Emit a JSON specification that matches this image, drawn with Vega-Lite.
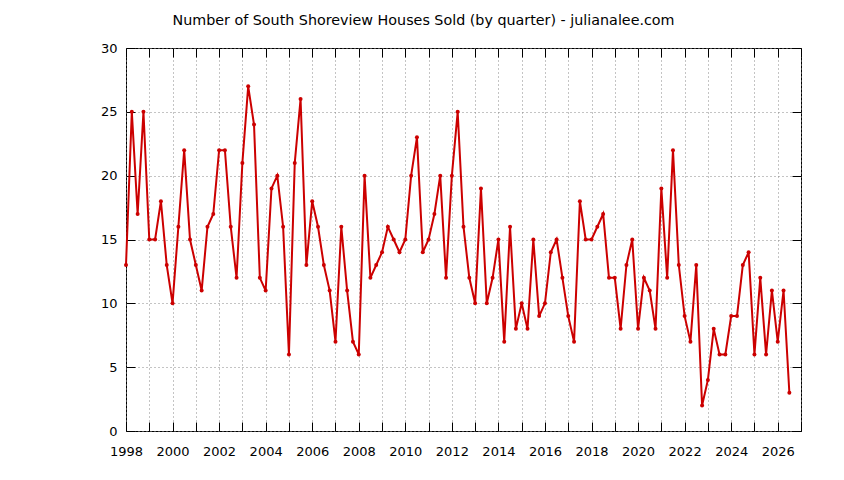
{
  "$schema": "https://vega.github.io/schema/vega-lite/v6.json",
  "width": 675,
  "height": 383,
  "autosize": {"type": "none"},
  "padding": {"left": 126, "top": 48, "right": 43, "bottom": 49},
  "background": "white",
  "title": {
    "text": "Number of South Shoreview Houses Sold (by quarter) - julianalee.com",
    "font": "DejaVu Sans",
    "fontSize": 14.3,
    "fontWeight": "normal",
    "color": "black",
    "anchor": "middle",
    "frame": "group",
    "dx": -40,
    "offset": 14
  },
  "config": {
    "view": {"stroke": "black", "strokeWidth": 1},
    "axis": {
      "labelFont": "DejaVu Sans",
      "labelFontSize": 13,
      "labelColor": "black",
      "domain": false,
      "tickColor": "black",
      "tickWidth": 1,
      "gridColor": "#888888",
      "gridDash": [1, 3],
      "gridWidth": 1,
      "title": null
    }
  },
  "datasets": {
    "sales": [
      {"t": 1998.0, "n": 13}, {"t": 1998.25, "n": 25}, {"t": 1998.5, "n": 17}, {"t": 1998.75, "n": 25},
      {"t": 1999.0, "n": 15}, {"t": 1999.25, "n": 15}, {"t": 1999.5, "n": 18}, {"t": 1999.75, "n": 13},
      {"t": 2000.0, "n": 10}, {"t": 2000.25, "n": 16}, {"t": 2000.5, "n": 22}, {"t": 2000.75, "n": 15},
      {"t": 2001.0, "n": 13}, {"t": 2001.25, "n": 11}, {"t": 2001.5, "n": 16}, {"t": 2001.75, "n": 17},
      {"t": 2002.0, "n": 22}, {"t": 2002.25, "n": 22}, {"t": 2002.5, "n": 16}, {"t": 2002.75, "n": 12},
      {"t": 2003.0, "n": 21}, {"t": 2003.25, "n": 27}, {"t": 2003.5, "n": 24}, {"t": 2003.75, "n": 12},
      {"t": 2004.0, "n": 11}, {"t": 2004.25, "n": 19}, {"t": 2004.5, "n": 20}, {"t": 2004.75, "n": 16},
      {"t": 2005.0, "n": 6}, {"t": 2005.25, "n": 21}, {"t": 2005.5, "n": 26}, {"t": 2005.75, "n": 13},
      {"t": 2006.0, "n": 18}, {"t": 2006.25, "n": 16}, {"t": 2006.5, "n": 13}, {"t": 2006.75, "n": 11},
      {"t": 2007.0, "n": 7}, {"t": 2007.25, "n": 16}, {"t": 2007.5, "n": 11}, {"t": 2007.75, "n": 7},
      {"t": 2008.0, "n": 6}, {"t": 2008.25, "n": 20}, {"t": 2008.5, "n": 12}, {"t": 2008.75, "n": 13},
      {"t": 2009.0, "n": 14}, {"t": 2009.25, "n": 16}, {"t": 2009.5, "n": 15}, {"t": 2009.75, "n": 14},
      {"t": 2010.0, "n": 15}, {"t": 2010.25, "n": 20}, {"t": 2010.5, "n": 23}, {"t": 2010.75, "n": 14},
      {"t": 2011.0, "n": 15}, {"t": 2011.25, "n": 17}, {"t": 2011.5, "n": 20}, {"t": 2011.75, "n": 12},
      {"t": 2012.0, "n": 20}, {"t": 2012.25, "n": 25}, {"t": 2012.5, "n": 16}, {"t": 2012.75, "n": 12},
      {"t": 2013.0, "n": 10}, {"t": 2013.25, "n": 19}, {"t": 2013.5, "n": 10}, {"t": 2013.75, "n": 12},
      {"t": 2014.0, "n": 15}, {"t": 2014.25, "n": 7}, {"t": 2014.5, "n": 16}, {"t": 2014.75, "n": 8},
      {"t": 2015.0, "n": 10}, {"t": 2015.25, "n": 8}, {"t": 2015.5, "n": 15}, {"t": 2015.75, "n": 9},
      {"t": 2016.0, "n": 10}, {"t": 2016.25, "n": 14}, {"t": 2016.5, "n": 15}, {"t": 2016.75, "n": 12},
      {"t": 2017.0, "n": 9}, {"t": 2017.25, "n": 7}, {"t": 2017.5, "n": 18}, {"t": 2017.75, "n": 15},
      {"t": 2018.0, "n": 15}, {"t": 2018.25, "n": 16}, {"t": 2018.5, "n": 17}, {"t": 2018.75, "n": 12},
      {"t": 2019.0, "n": 12}, {"t": 2019.25, "n": 8}, {"t": 2019.5, "n": 13}, {"t": 2019.75, "n": 15},
      {"t": 2020.0, "n": 8}, {"t": 2020.25, "n": 12}, {"t": 2020.5, "n": 11}, {"t": 2020.75, "n": 8},
      {"t": 2021.0, "n": 19}, {"t": 2021.25, "n": 12}, {"t": 2021.5, "n": 22}, {"t": 2021.75, "n": 13},
      {"t": 2022.0, "n": 9}, {"t": 2022.25, "n": 7}, {"t": 2022.5, "n": 13}, {"t": 2022.75, "n": 2},
      {"t": 2023.0, "n": 4}, {"t": 2023.25, "n": 8}, {"t": 2023.5, "n": 6}, {"t": 2023.75, "n": 6},
      {"t": 2024.0, "n": 9}, {"t": 2024.25, "n": 9}, {"t": 2024.5, "n": 13}, {"t": 2024.75, "n": 14},
      {"t": 2025.0, "n": 6}, {"t": 2025.25, "n": 12}, {"t": 2025.5, "n": 6}, {"t": 2025.75, "n": 11},
      {"t": 2026.0, "n": 7}, {"t": 2026.25, "n": 11}, {"t": 2026.5, "n": 3}
    ]
  },
  "data": {"name": "sales"},
  "layer": [
    {
      "mark": {"type": "line", "color": "#cc0000", "strokeWidth": 2},
      "encoding": {
        "x": {
          "field": "t", "type": "quantitative",
          "scale": {"domain": [1998, 2027], "nice": false, "zero": false},
          "axis": {
            "orient": "bottom",
            "values": [1998,1999,2000,2001,2002,2003,2004,2005,2006,2007,2008,2009,2010,2011,2012,2013,2014,2015,2016,2017,2018,2019,2020,2021,2022,2023,2024,2025,2026,2027],
            "format": "d",
            "labelExpr": "datum.value % 2 == 0 ? datum.label : ''",
            "ticks": false,
            "labelPadding": 14,
            "labelFlush": false,
            "labelOverlap": false,
            "grid": true
          }
        },
        "y": {
          "field": "n", "type": "quantitative",
          "scale": {"domain": [0, 30], "nice": false},
          "axis": {
            "orient": "left",
            "values": [0, 5, 10, 15, 20, 25, 30],
            "ticks": false,
            "labelPadding": 9,
            "grid": true
          }
        }
      }
    },
    {
      "mark": {"type": "point", "filled": true, "shape": "circle", "size": 16, "color": "#cc0000", "opacity": 1},
      "encoding": {
        "x": {
          "field": "t", "type": "quantitative",
          "axis": {
            "orient": "bottom",
            "offset": -9,
            "tickSize": 9,
            "values": [1998,1999,2000,2001,2002,2003,2004,2005,2006,2007,2008,2009,2010,2011,2012,2013,2014,2015,2016,2017,2018,2019,2020,2021,2022,2023,2024,2025,2026,2027],
            "labels": false,
            "grid": false
          }
        },
        "y": {
          "field": "n", "type": "quantitative",
          "axis": {
            "orient": "left",
            "offset": -9,
            "tickSize": 9,
            "values": [0, 5, 10, 15, 20, 25, 30],
            "labels": false,
            "grid": false
          }
        }
      }
    },
    {
      "mark": {"type": "point", "opacity": 0},
      "encoding": {
        "x": {
          "field": "t", "type": "quantitative",
          "axis": {
            "orient": "top",
            "offset": -9,
            "tickSize": 9,
            "values": [1998,1999,2000,2001,2002,2003,2004,2005,2006,2007,2008,2009,2010,2011,2012,2013,2014,2015,2016,2017,2018,2019,2020,2021,2022,2023,2024,2025,2026,2027],
            "labels": false,
            "grid": false
          }
        },
        "y": {
          "field": "n", "type": "quantitative",
          "axis": {
            "orient": "right",
            "offset": -9,
            "tickSize": 9,
            "values": [0, 5, 10, 15, 20, 25, 30],
            "labels": false,
            "grid": false
          }
        }
      }
    }
  ],
  "resolve": {"axis": {"x": "independent", "y": "independent"}}
}
